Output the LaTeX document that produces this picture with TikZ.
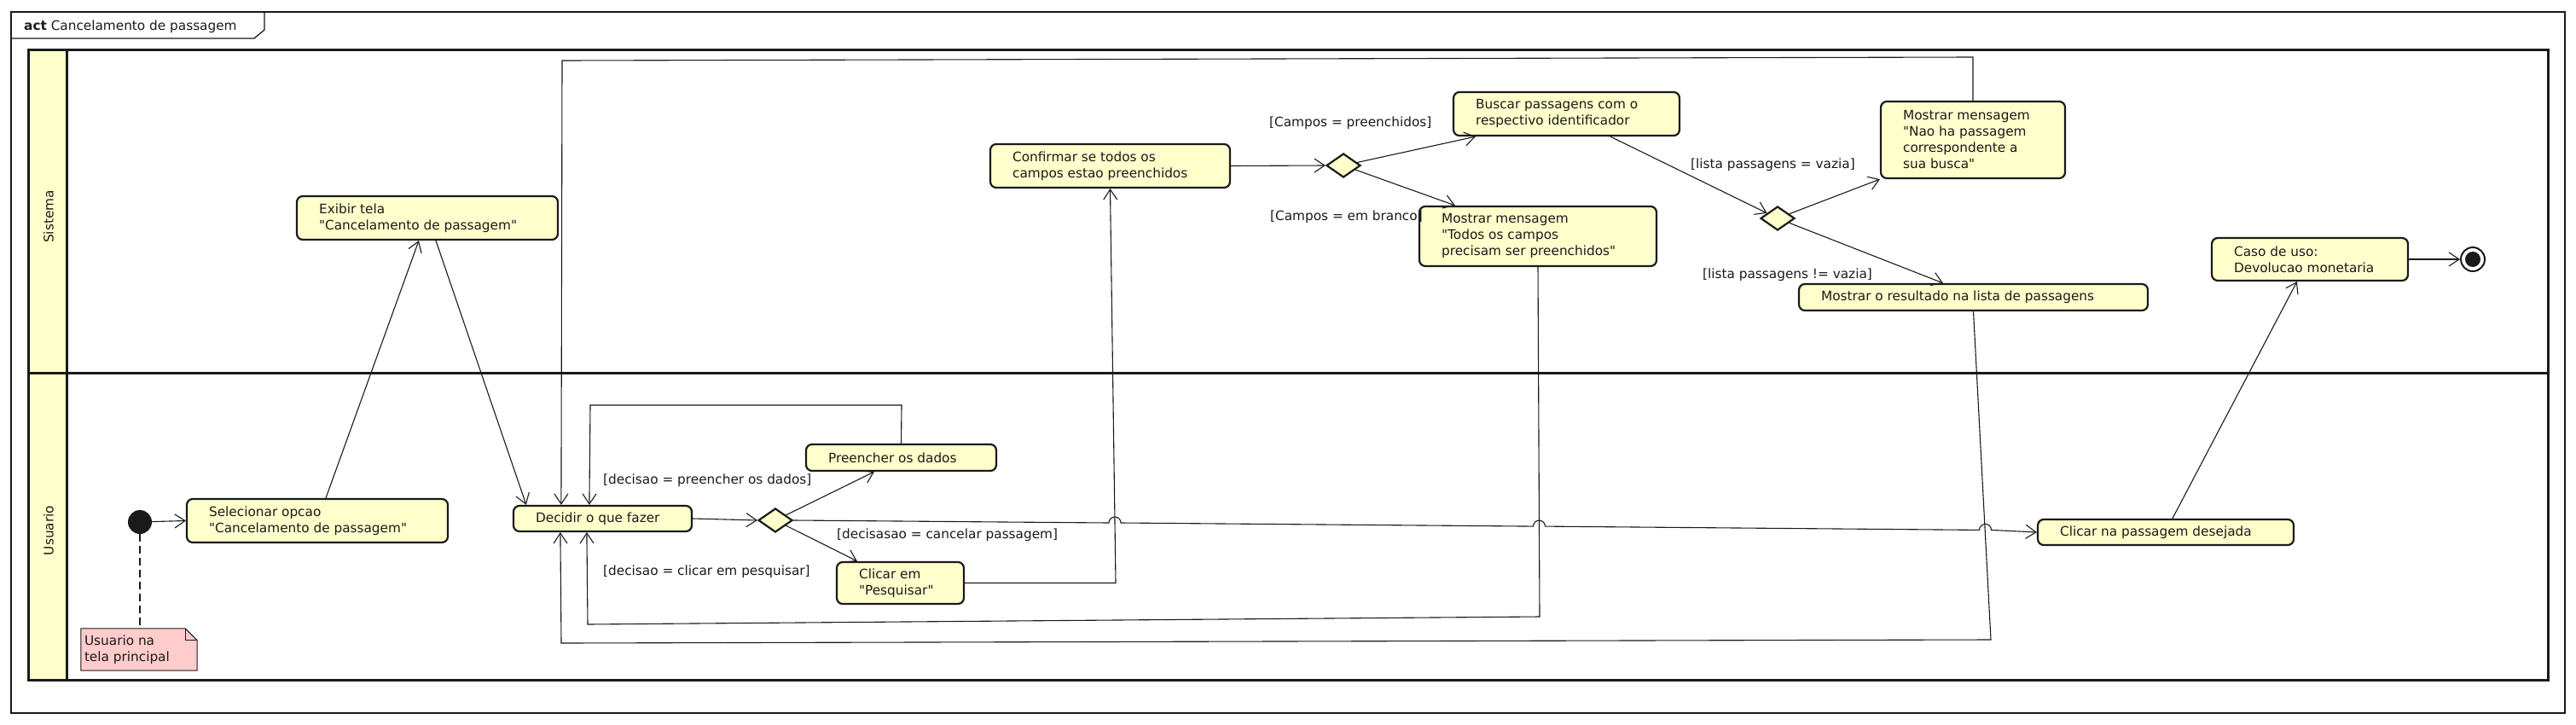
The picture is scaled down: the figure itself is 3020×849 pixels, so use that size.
\documentclass[tikz,border=0pt]{standalone}
\usepackage{fontspec}
\setmainfont{DejaVu Sans}[Ligatures=TeXOff]
\usetikzlibrary{arrows.meta,shapes.geometric,fit,calc}
\definecolor{actfill}{HTML}{FFFFCC}
\definecolor{notefill}{HTML}{FFCCCC}
\definecolor{ink}{HTML}{1A1A1A}
\newcommand\ActBox[6]{%
  \node[actbox, fit={(#2,#3) (#4,#5)}] (#1) {};
  \node[txt, anchor=west] (#1t) at ([xshift=27pt]#1.west) {#6};}
\begin{document}
\begin{tikzpicture}[x=1pt,y=-1pt,
  txt/.style={font=\fontsize{15.3}{19}\selectfont, inner sep=0pt, align=left, text=ink},
  actbox/.style={draw=ink, fill=actfill, line width=2.2pt, rounded corners=7pt, inner sep=0pt},
  decision/.style={diamond, draw=ink, fill=actfill, line width=2.2pt, minimum width=40pt, minimum height=28pt, inner sep=0pt},
  flow/.style={draw=ink, line width=1.1pt, -{Straight Barb[length=12pt,width=16pt]}},
  bridge/.style={start angle=180, end angle=0, radius=7pt}]
\useasboundingbox (0,0) rectangle (3020,849);
\fill[white] (0,0) rectangle (3020,849);
% frame
\draw[ink, line width=1.3pt] (13,14) rectangle (3007,836);
\draw[ink, line width=1.3pt] (13,45) -- (298,45) -- (310,35) -- (310,14);
\node[txt, anchor=west] (title) at (28,31) {\textbf{act} Cancelamento de passagem};
% lanes
\fill[actfill] (33,58) rectangle (78,797);
\draw[ink, line width=3pt] (33,58) rectangle (2987,797);
\draw[ink, line width=3pt] (78,58) -- (78,797);
\draw[ink, line width=3pt] (33,437) -- (2987,437);
\node[txt, rotate=90] (lsis) at (57,254) {Sistema};
\node[txt, rotate=90] (lusu) at (57,622) {Usuario};
% nodes
\node[circle, fill=ink, minimum size=28pt, inner sep=0pt] (ini) at (164,612) {};
\ActBox{sel}{219}{585}{525}{636}{Selecionar opcao\\"Cancelamento de passagem"}
\ActBox{exi}{348}{230}{654}{281}{Exibir tela\\"Cancelamento de passagem"}
\ActBox{dec}{602}{593}{811}{623}{Decidir o que fazer}
\node[decision] (d1) at (909,610) {};
\ActBox{pre}{945}{521}{1168}{552}{Preencher os dados}
\ActBox{clq}{981}{659}{1130}{708}{Clicar em\\"Pesquisar"}
\ActBox{con}{1161}{169}{1442}{220}{Confirmar se todos os\\campos estao preenchidos}
\node[decision] (d2) at (1575,194) {};
\ActBox{bus}{1704}{108}{1969}{159}{Buscar passagens com o\\respectivo identificador}
\ActBox{mtc}{1664}{242}{1942}{312}{Mostrar mensagem\\"Todos os campos\\precisam ser preenchidos"}
\node[decision] (d3) at (2084,256) {};
\ActBox{nao}{2205}{119}{2421}{209}{Mostrar mensagem\\"Nao ha passagem\\correspondente a\\sua busca"}
\ActBox{res}{2109}{333}{2518}{364}{Mostrar o resultado na lista de passagens}
\ActBox{caso}{2593}{279}{2823}{329}{Caso de uso:\\Devolucao monetaria}
\ActBox{clp}{2389}{609}{2689}{639}{Clicar na passagem desejada}
\node[circle, draw=ink, fill=white, line width=2pt, minimum size=28pt, inner sep=0pt,
  path picture={\fill[ink] (path picture bounding box.center) circle (9pt);}] (fin) at (2899,304) {};
% note
\node[fit={(95,737) (231,786)}, inner sep=0pt] (note) {};
\filldraw[fill=notefill, draw=ink, line width=1pt] (note.north west) -- ([xshift=-14pt]note.north east) -- ([yshift=-14pt]note.north east) -- (note.south east) -- (note.south west) -- cycle;
\draw[ink, line width=1pt] ([xshift=-14pt]note.north east) -- ([xshift=-14pt,yshift=-14pt]note.north east) -- ([yshift=-14pt]note.north east);
\node[txt, anchor=west] (notet) at ([xshift=4pt]note.west) {Usuario na\\tela principal};
\draw[ink, line width=1.1pt, dash pattern=on 9pt off 5pt] (ini.south) -- (ini.south |- note.north);
% guards
\node[txt, anchor=west] (g1) at (707,563) {[decisao = preencher os dados]};
\node[txt, anchor=west] (g2) at (707,670) {[decisao = clicar em pesquisar]};
\node[txt, anchor=west] (g3) at (981,627) {[decisasao = cancelar passagem]};
\node[txt, anchor=west] (g4) at (1488,144) {[Campos = preenchidos]};
\node[txt, anchor=west] (g5) at (1489,254) {[Campos = em branco]};
\node[txt, anchor=west] (g6) at (1982,193) {[lista passagens = vazia]};
\node[txt, anchor=west] (g7) at (1996,322) {[lista passagens != vazia]};
% edges
\draw[flow] (ini) -- (sel.west);
\draw[flow] ([xshift=10pt]sel.north) -- ([xshift=-10pt]exi.south);
\draw[flow] ([xshift=10pt]exi.south) -- ([xshift=16pt]dec.north west);
\draw[flow] (nao.north) -- (2313,67) -- (659,71) -- ([xshift=57pt]dec.north west);
\draw[flow] (pre.north) -- (1057,475) -- (692,475) -- ([xshift=90pt]dec.north west);
\draw[flow] (dec.east) -- (d1.west);
\draw[flow] (d1) -- ([xshift=81pt]pre.south west);
\draw[flow] (d1) -- ([xshift=25pt]clq.north west);
\draw[flow] (d1.east) -- (1300,613) arc[bridge] -- (1797.5,617.1) arc[bridge] -- (2320.5,621.4) arc[bridge] -- (clp.west);
\draw[flow] (clq.east) -- (1308,683.5) -- (con.south);
\draw[flow] (mtc.south) -- (1805,723) -- (689,732) -- ([xshift=87pt]dec.south west);
\draw[flow] (res.south) -- (2334,750) -- (658,754) -- ([xshift=56pt]dec.south west);
\draw[flow] (con.east) -- (d2.west);
\draw[flow] (d2) -- ([xshift=27pt]bus.south west);
\draw[flow] (d2) -- ([xshift=43pt]mtc.north west);
\draw[flow] ([xshift=185pt]bus.south west) -- (d3);
\draw[flow] (d3) -- (nao.south west);
\draw[flow] (d3) -- ([xshift=170pt]res.north west);
\draw[flow] ([xshift=159pt]clp.north west) -- ([xshift=101pt]caso.south west);
\draw[flow] (caso.east) -- (fin);
\end{tikzpicture}
\end{document}
